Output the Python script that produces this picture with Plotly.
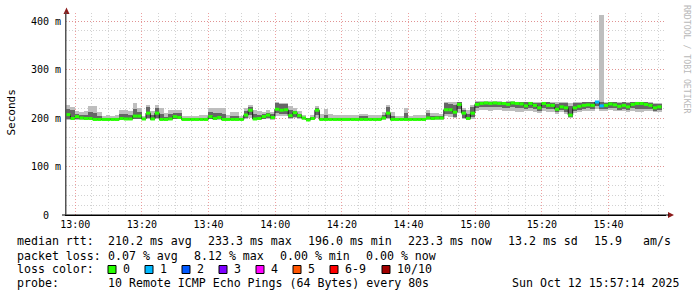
import plotly.graph_objects as go
from datetime import datetime, timedelta

# ---------------- data ----------------
START = datetime(2025, 10, 12, 12, 57, 14)
END = datetime(2025, 10, 12, 15, 57, 14)
STEP_S = 80

median_ms = [
    207, 199, 203, 200, 199, 199, 197, 197, 197, 197,
    197, 197, 199, 198, 198, 204, 204, 198, 210, 198,
    210, 197, 197, 198, 203, 201, 197, 197, 197, 197,
    197, 197, 203, 199, 201, 197, 197, 197, 197, 197,
    206, 216, 198, 199, 203, 206, 201, 218, 216, 217,
    205, 211, 205, 200, 196, 199, 216, 197, 197, 197,
    197, 197, 197, 197, 197, 197, 197, 197, 197, 197,
    197, 200, 210, 197, 197, 197, 197, 197, 197, 197,
    197, 200, 199, 200, 200, 217, 217, 212, 228, 210,
    199, 210, 228, 230, 231, 230, 231, 230, 230, 228,
    231, 230, 229, 225, 230, 226, 221, 230, 226, 226,
    218, 223, 221, 206, 221, 224, 226, 227, 226, 233,
    225, 226, 229, 227, 224, 226, 223, 228, 230, 230,
    228, 226, 221, 223,
]

ping_max_ms = [
    227, 222, 214, 213, 214, 225, 225, 212, 205, 206,
    204, 206, 216, 216, 214, 231, 220, 205, 227, 215,
    227, 220, 210, 216, 216, 216, 205, 205, 205, 205,
    206, 206, 220, 220, 220, 220, 206, 213, 213, 204,
    220, 227, 216, 214, 213, 216, 213, 234, 231, 231,
    224, 220, 214, 206, 200, 206, 225, 208, 218, 208,
    206, 206, 206, 206, 206, 206, 209, 209, 206, 206,
    206, 213, 227, 213, 205, 205, 220, 205, 206, 206,
    206, 216, 210, 210, 208, 234, 234, 234, 234, 220,
    216, 227, 235, 236, 235, 235, 236, 235, 234, 235,
    236, 234, 234, 234, 234, 233, 233, 234, 234, 233,
    232, 233, 232, 230, 232, 232, 234, 234, 233, 235,
    412, 232, 233, 234, 232, 233, 232, 233, 234, 234,
    233, 232, 231, 230,
]

ping_min_ms = [
    196, 196, 196, 196, 196, 196, 196, 196, 196, 196,
    196, 196, 196, 196, 196, 197, 197, 196, 197, 196,
    197, 196, 196, 196, 197, 197, 196, 196, 196, 196,
    196, 196, 197, 196, 196, 196, 196, 196, 196, 196,
    197, 199, 196, 196, 197, 198, 196, 205, 204, 205,
    198, 199, 198, 196, 195, 196, 199, 196, 196, 196,
    196, 196, 196, 196, 196, 196, 196, 196, 196, 196,
    196, 196, 197, 196, 196, 196, 196, 196, 196, 196,
    196, 196, 196, 196, 196, 204, 203, 200, 210, 197,
    196, 198, 214, 216, 216, 215, 216, 216, 215, 214,
    215, 212, 212, 214, 214, 213, 210, 214, 212, 212,
    208, 212, 208, 200, 210, 213, 214, 215, 214, 218,
    214, 214, 216, 215, 214, 215, 213, 214, 212, 212,
    214, 214, 212, 213,
]

inner_hi_ms = [
    218, 216, 209, 207, 207, 212, 210, 204, 201, 201,
    200, 201, 209, 208, 206, 218, 212, 200, 222, 206,
    220, 208, 202, 208, 210, 210, 200, 200, 200, 200,
    201, 201, 212, 210, 210, 208, 201, 205, 205, 200,
    215, 223, 208, 207, 208, 211, 208, 231, 228, 228,
    217, 215, 209, 203, 198, 203, 221, 201, 206, 201,
    201, 201, 201, 201, 201, 201, 204, 204, 201, 201,
    201, 207, 222, 205, 201, 201, 210, 201, 201, 201,
    201, 210, 205, 205, 204, 230, 229, 227, 233, 217,
    209, 223, 233, 234, 234, 234, 234, 234, 233, 233,
    234, 233, 232, 232, 232, 231, 230, 232, 232, 231,
    229, 231, 230, 224, 230, 231, 232, 232, 232, 234,
    232, 231, 232, 232, 231, 232, 230, 232, 233, 233,
    232, 231, 229, 229,
]

inner_lo_ms = [
    198, 197, 197, 197, 197, 197, 196, 196, 196, 196,
    196, 196, 197, 197, 197, 198, 198, 196, 201, 196,
    201, 196, 196, 197, 198, 198, 196, 196, 196, 196,
    196, 196, 198, 197, 197, 196, 196, 196, 196, 196,
    200, 206, 197, 197, 198, 200, 197, 210, 208, 209,
    200, 203, 200, 197, 196, 197, 206, 196, 196, 196,
    196, 196, 196, 196, 196, 196, 196, 196, 196, 196,
    196, 197, 201, 196, 196, 196, 196, 196, 196, 196,
    196, 197, 197, 197, 197, 208, 208, 203, 218, 201,
    197, 202, 220, 222, 223, 222, 223, 222, 221, 220,
    222, 221, 220, 218, 221, 218, 214, 221, 218, 218,
    212, 216, 213, 202, 214, 217, 219, 220, 219, 224,
    218, 219, 221, 220, 217, 219, 216, 220, 219, 219,
    219, 218, 214, 216,
]

# steps with lost pings (step index -> pings lost out of 10)
loss_nonzero = {119: 1, 120: 1}

loss_labels = ["0", "1", "2", "3", "4", "5", "6-9", "10/10"]
loss_colors = ["#26ff00", "#00b8ff", "#0059ff", "#7e00ff",
               "#ff00ff", "#ff5500", "#ff0000", "#a10000"]

y_tick_vals = [0, 100, 200, 300, 400]
y_tick_text = ["0\u00a0\u00a0", "100 m", "200 m", "300 m", "400 m"]

stats_rtt = ["210.2 ms avg", "233.3 ms max", "196.0 ms min",
             "223.3 ms now", "13.2 ms sd", "15.9", "am/s"]
stats_loss = ["0.07 % avg", "8.12 % max", "0.00 % min", "0.00 % now"]
probe_text = "10 Remote ICMP Echo Pings (64 Bytes) every 80s"
stamp_text = "Sun Oct 12 15:57:14 2025"

# ---------------- geometry helpers ----------------
W, H = 697, 297
PL, PR, PT, PB = 66, 666, 13, 215
Y_TOP = 416.5
MONO = "DejaVu Sans Mono"


def px_x(p):
    return (p - PL) / (PR - PL)


def px_y(p):
    return (PB - p) / (PB - PT)


n = len(median_ms)
edges = [START + timedelta(seconds=STEP_S * i) for i in range(n + 1)]
centers = [START + timedelta(seconds=STEP_S * (i + 0.5)) for i in range(n)]

fig = go.Figure()

# smoke: outer (min..max) and inner bands
fig.add_bar(x=centers, y=[hi - lo for lo, hi in zip(ping_min_ms, ping_max_ms)],
            base=ping_min_ms, width=STEP_S * 1000,
            marker=dict(color="#bebebe", line=dict(width=0)),
            hoverinfo="skip", showlegend=False)
fig.add_bar(x=centers, y=[hi - lo for lo, hi in zip(inner_lo_ms, inner_hi_ms)],
            base=inner_lo_ms, width=STEP_S * 1000,
            marker=dict(color="#666666", line=dict(width=0)),
            hoverinfo="skip", showlegend=False)

# median: thin dark step line with colored level segments
fig.add_scatter(x=edges, y=median_ms + [median_ms[-1]], mode="lines",
                line=dict(shape="hv", color="#1a1a1a", width=1),
                hoverinfo="skip", showlegend=False)


def loss_index(k):
    if k <= 5:
        return k
    if k < 10:
        return 6
    return 7


segs = {}
for i, m in enumerate(median_ms):
    ci = loss_index(loss_nonzero.get(i, 0))
    xs, ys = segs.setdefault(ci, ([], []))
    xs += [edges[i], edges[i + 1], None]
    ys += [m, m, None]
for ci, (xs, ys) in segs.items():
    fig.add_scatter(x=xs, y=ys, mode="lines",
                    line=dict(color=loss_colors[ci], width=3),
                    hoverinfo="skip", showlegend=False)

# ---------------- axes ----------------
MAJOR_GRID = "rgba(230,120,120,0.7)"
MINOR_GRID = "#d2d2d2"
DOTS = "1px,2px"

fig.update_xaxes(
    type="date", range=[START, END],
    tick0="2025-10-12 13:00:00", dtick=20 * 60 * 1000, tickformat="%H:%M",
    showgrid=True, gridcolor=MAJOR_GRID, griddash=DOTS, gridwidth=1,
    minor=dict(dtick=5 * 60 * 1000, showgrid=True, gridcolor=MINOR_GRID,
               griddash=DOTS, gridwidth=1),
    showline=True, linecolor="#000000", linewidth=1,
    ticks="", ticklen=0,
    tickfont=dict(family=MONO, size=10, color="#000"),
    zeroline=False, fixedrange=True,
)
fig.update_yaxes(
    range=[0, Y_TOP], tickvals=y_tick_vals, ticktext=y_tick_text,
    showgrid=True, gridcolor=MAJOR_GRID, griddash=DOTS, gridwidth=1,
    minor=dict(dtick=20, showgrid=True, gridcolor=MINOR_GRID,
               griddash=DOTS, gridwidth=1),
    showline=True, linecolor="#555555", linewidth=1,
    ticks="outside", ticklen=2, tickcolor="rgba(0,0,0,0)",
    tickfont=dict(family=MONO, size=10, color="#000"),
    zeroline=False, fixedrange=True,
)

shapes = []
# axis arrows
shapes.append(dict(type="path", xref="paper", yref="paper",
                   path=f"M {px_x(63.5)} {px_y(14)} L {px_x(66.5)} {px_y(7.5)} L {px_x(69.5)} {px_y(14)} Z",
                   fillcolor="#8b1a1a", line=dict(width=0)))
shapes.append(dict(type="path", xref="paper", yref="paper",
                   path=f"M {px_x(668)} {px_y(212)} L {px_x(674)} {px_y(215)} L {px_x(668)} {px_y(218)} Z",
                   fillcolor="#8b1a1a", line=dict(width=0)))
shapes.append(dict(type="line", xref="paper", yref="paper",
                   x0=px_x(62), x1=px_x(669), y0=0, y1=0,
                   line=dict(color="#000000", width=1)))
shapes.append(dict(type="line", xref="paper", yref="paper",
                   x0=0, x1=0, y0=0, y1=px_y(12),
                   line=dict(color="#555555", width=1)))

annotations = []


def text_at(x, y, s, size=11.6, anchor="left", color="#000"):
    annotations.append(dict(xref="paper", yref="paper", x=px_x(x), y=px_y(y),
                            xanchor=anchor, yanchor="middle", text=s,
                            showarrow=False, borderpad=0,
                            font=dict(family=MONO, size=size, color=color)))


# legend lines
text_at(16, 241, "median rtt:")
for xpos, s in zip([107, 207, 307, 407, 507, 593, 642], stats_rtt):
    text_at(xpos, 241, s)
text_at(16, 255.5, "packet loss:")
for xpos, s in zip([107, 193, 279, 365], stats_loss):
    text_at(xpos, 255.5, s)
text_at(16, 269, "loss color:")
sq_x = [108, 145, 182, 219, 256, 293, 330, 382]
lab_x = [122, 159, 196, 233, 270, 307, 344, 396]
for sx, lx, lab, col in zip(sq_x, lab_x, loss_labels, loss_colors):
    shapes.append(dict(type="rect", xref="paper", yref="paper",
                       x0=px_x(sx), x1=px_x(sx + 8), y0=px_y(273.5), y1=px_y(265.5),
                       fillcolor=col, line=dict(color="#000", width=1)))
    text_at(lx, 269, lab)
text_at(16, 283, "probe:")
text_at(107, 283, probe_text)
text_at(681, 283, stamp_text, anchor="right")

# axis title and watermark
annotations.append(dict(xref="paper", yref="paper", x=px_x(10.5), y=px_y(113),
                        xanchor="center", yanchor="middle", text="Seconds",
                        textangle=-90, showarrow=False,
                        font=dict(family=MONO, size=11, color="#000")))
annotations.append(dict(xref="paper", yref="paper", x=px_x(687), y=px_y(59),
                        xanchor="center", yanchor="middle",
                        text="RRDTOOL / TOBI OETIKER",
                        textangle=90, showarrow=False,
                        font=dict(family=MONO, size=8.2, color="#b8b8b8")))

fig.update_layout(
    width=W, height=H, autosize=False,
    margin=dict(l=PL, r=W - PR, t=PT, b=H - PB),
    paper_bgcolor="#ffffff", plot_bgcolor="#ffffff",
    barmode="overlay", bargap=0,
    shapes=shapes, annotations=annotations,
    showlegend=False,
)

fig.write_html("out.html", config={"displayModeBar": False})
